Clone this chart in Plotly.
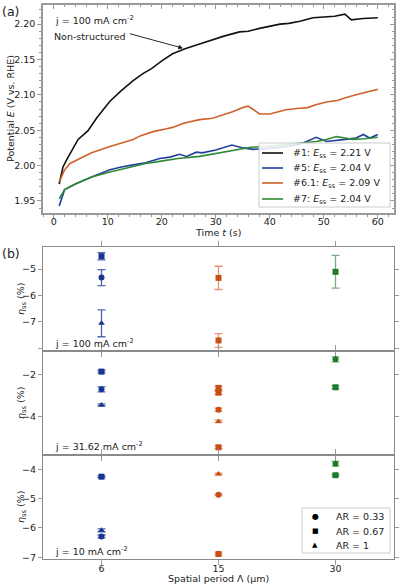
import plotly.graph_objects as go

# ---------------- data: panel (a) ----------------
t_1 = [1.0, 1.7, 2.5, 3.5, 4.5, 6.3, 8.0, 10.4, 12.5, 14.7, 16.5, 18.1, 20.0, 22.0, 24.3, 27.0, 29.4,
       31.5, 34.4, 36.0, 38.1, 40.0, 41.9, 43.5, 45.6, 48.0, 50.5, 52.0, 53.9, 55.1, 57.3, 58.5, 60.0]
E_1 = [1.974, 1.998, 2.010, 2.024, 2.037, 2.049, 2.068, 2.091, 2.106, 2.120, 2.130, 2.137, 2.148, 2.158,
       2.165, 2.172, 2.178, 2.183, 2.189, 2.190, 2.194, 2.197, 2.200, 2.201, 2.204, 2.209, 2.210, 2.211,
       2.214, 2.206, 2.208, 2.208, 2.209]
t_5 = [1.0, 2.0, 4.0, 7.0, 10.4, 12.5, 14.7, 17.0, 19.6, 21.5, 23.3, 24.6, 26.4, 27.5, 30.0, 33.0, 35.0,
       36.9, 39.4, 42.0, 45.5, 48.6, 50.5, 52.0, 54.0, 56.0, 57.3, 58.5, 60.0]
E_5 = [1.943, 1.966, 1.974, 1.984, 1.994, 1.998, 2.001, 2.004, 2.010, 2.012, 2.016, 2.013, 2.019, 2.018,
       2.022, 2.029, 2.025, 2.023, 2.024, 2.026, 2.030, 2.040, 2.034, 2.035, 2.037, 2.039, 2.044, 2.039, 2.044]
t_61 = [1.0, 2.0, 3.0, 4.8, 7.0, 10.4, 12.5, 14.7, 16.0, 18.4, 20.9, 22.0, 24.0, 27.0, 29.4, 31.0, 33.1,
        35.0, 36.0, 37.0, 38.1, 40.0, 41.5, 43.0, 45.5, 47.0, 48.5, 50.5, 52.5, 54.0, 56.0, 58.0, 60.0]
E_61 = [1.977, 1.994, 2.003, 2.010, 2.018, 2.027, 2.032, 2.037, 2.042, 2.048, 2.052, 2.054, 2.060, 2.065,
        2.067, 2.071, 2.076, 2.082, 2.084, 2.079, 2.073, 2.073, 2.076, 2.079, 2.081, 2.082, 2.086, 2.090,
        2.092, 2.096, 2.100, 2.104, 2.108]
t_7 = [1.0, 2.0, 4.0, 7.0, 10.4, 14.0, 17.0, 19.6, 23.0, 27.0, 30.0, 33.9, 36.5, 39.4, 42.5, 45.5, 48.6,
       50.5, 52.3, 54.0, 55.4, 57.5, 60.0]
E_7 = [1.953, 1.966, 1.974, 1.984, 1.991, 1.998, 2.003, 2.006, 2.010, 2.013, 2.017, 2.023, 2.026, 2.027,
       2.029, 2.031, 2.034, 2.037, 2.041, 2.039, 2.037, 2.038, 2.040]
sample_names = ["#1", "#5", "#6.1", "#7"]
sample_Ess = [2.21, 2.04, 2.09, 2.04]

# ---------------- data: panel (b) ----------------
periods = ["6", "15", "30"]
ar_levels = [0.33, 0.67, 1]

j100_period = ["6", "6", "6", "15", "15", "30"]
j100_ar = [0.33, 0.67, 1, 0.67, 0.67, 0.67]
j100_eta = [-5.32, -4.51, -7.05, -5.33, -7.70, -5.10]
j100_err = [0.30, 0.14, 0.51, 0.44, 0.26, 0.62]

j31_period = ["6", "6", "6", "15", "15", "15", "15", "15", "30", "30"]
j31_ar = [0.33, 0.67, 1, 0.67, 0.67, 0.33, 1, 0.67, 0.33, 0.67]
j31_eta = [-2.69, -1.84, -3.44, -2.62, -2.85, -3.67, -4.23, -5.47, -1.25, -2.59]
j31_err = [0.12, 0.06, 0.05, 0.08, 0.08, 0.08, 0.06, 0.06, 0.12, 0.08]

j10_period = ["6", "6", "6", "15", "15", "15", "30", "30"]
j10_ar = [0.67, 1, 0.33, 1, 0.33, 0.67, 0.33, 0.67]
j10_eta = [-4.25, -6.08, -6.29, -4.16, -4.87, -6.89, -3.81, -4.20]
j10_err = [0.03, 0.05, 0.05, 0.03, 0.03, 0.04, 0.08, 0.03]

# ---------------- styles ----------------
W, H = 399, 587
FONT = "DejaVu Sans"
AXC = "#9a9a9a"
line_colors = ["#111111", "#233f9e", "#d0602a", "#2e8b34"]
period_colors = {"6": "#1a3590", "15": "#c85018", "30": "#1e7a2a"}
period_err = {"6": "rgba(26,53,144,0.75)", "15": "rgba(200,80,24,0.6)", "30": "rgba(30,122,42,0.6)"}
ar_symbol = {0.33: "circle", 0.67: "square", 1: "triangle-up"}
ar_glyph = {0.33: "●", 0.67: "■", 1: "▲"}


def px_x(p):
    return p / W


def px_y(p):
    return 1 - p / H


fig = go.Figure()

for name, ess, tt, ee, col in zip(sample_names, sample_Ess, [t_1, t_5, t_61, t_7], [E_1, E_5, E_61, E_7], line_colors):
    fig.add_trace(go.Scatter(x=tt, y=ee, mode="lines", line=dict(color=col, width=1.6),
                             name=f"{name}: E_ss = {ess:.2f} V", showlegend=False,
                             xaxis="x", yaxis="y"))

sets = [(j100_period, j100_ar, j100_eta, j100_err, "2"),
        (j31_period, j31_ar, j31_eta, j31_err, "3"),
        (j10_period, j10_ar, j10_eta, j10_err, "4")]
for per, ar, eta, err, ax in sets:
    for p in periods:
        for a in ar_levels:
            idx = [i for i in range(len(per)) if per[i] == p and ar[i] == a]
            if not idx:
                continue
            fig.add_trace(go.Scatter(
                x=[per[i] for i in idx], y=[eta[i] for i in idx], mode="markers",
                marker=dict(symbol=ar_symbol[a], color=period_colors[p], size=6),
                error_y=dict(type="data", array=[err[i] for i in idx], color=period_err[p],
                             thickness=1.3, width=4),
                showlegend=False, xaxis="x" + ax, yaxis="y" + ax))

fig.add_trace(go.Scatter(x=[None], y=[None], xaxis="x5", yaxis="y5", showlegend=False))

tickfont = dict(family=FONT, size=9.5, color="#222")

a_dom_x = [px_x(43), px_x(394)]
a_dom_y = [px_y(213), px_y(5)]
b_doms = [[px_y(351), px_y(247)], [px_y(455), px_y(351)], [px_y(559), px_y(455)]]

common = dict(showgrid=False, zeroline=False, showline=True, linecolor=AXC, linewidth=1.5,
              tickcolor=AXC, tickfont=tickfont, automargin=False)

layout = dict(
    width=W, height=H, margin=dict(l=0, r=0, t=0, b=0, autoexpand=False),
    paper_bgcolor="white", plot_bgcolor="white", showlegend=False,
    font=dict(family=FONT, size=9.5, color="#222"),
    xaxis=dict(domain=a_dom_x, anchor="y", range=[-2, 63], tickvals=[0, 10, 20, 30, 40, 50, 60],
               ticks="outside", ticklen=4, ticklabelstandoff=-5,
               minor=dict(dtick=2, tick0=0, ticks="outside", ticklen=2, tickcolor=AXC),
               **common),
    yaxis=dict(domain=a_dom_y, anchor="x", range=[1.933, 2.227], tickvals=[1.95, 2.0, 2.05, 2.1, 2.15, 2.2],
               tickformat=".2f", ticks="outside", ticklen=4,
               minor=dict(dtick=0.01, tick0=1.9, ticks="outside", ticklen=2, tickcolor=AXC),
               **common),
    xaxis5=dict(domain=a_dom_x, anchor="y5", overlaying="x", side="top", range=[-2, 63],
                tickvals=[0, 10, 20, 30, 40, 50, 60], showticklabels=False, ticks="inside", ticklen=4,
                minor=dict(dtick=2, tick0=0, ticks="inside", ticklen=2, tickcolor=AXC), **common),
    yaxis5=dict(domain=a_dom_y, anchor="x5", overlaying="y", side="right", range=[1.933, 2.227],
                tickvals=[1.95, 2.0, 2.05, 2.1, 2.15, 2.2], showticklabels=False, ticks="inside", ticklen=4,
                minor=dict(dtick=0.01, tick0=1.9, ticks="inside", ticklen=2, tickcolor=AXC), **common),
)

b_ranges = [[-8.1, -4.16], [-5.84, -0.85], [-7.06, -3.51]]
b_ticks = [([-8, -7, -6, -5], ["", "−7", "−6", "−5"]),
           ([-4, -2], ["−4", "−2"]),
           ([-7, -6, -5, -4], ["−7", "−6", "−5", "−4"])]
bcommon = dict(common)
bcommon.update(linewidth=1.2, linecolor="#8a8a8a")
for k, ax in enumerate(["2", "3", "4"]):
    xa = dict(domain=a_dom_x, anchor="y" + ax, type="category", categoryorder="array",
              categoryarray=periods, range=[-0.5, 2.5], ticks="outside", ticklen=5, mirror="allticks",
              showticklabels=(ax == "4"), ticklabelstandoff=-5, **bcommon)
    if ax != "4":
        xa["matches"] = "x4"
    layout["xaxis" + ax] = xa
    layout["yaxis" + ax] = dict(domain=b_doms[k], anchor="x" + ax, range=b_ranges[k],
                                tickvals=b_ticks[k][0], ticktext=b_ticks[k][1], ticks="outside", ticklen=4,
                                mirror="ticks", **bcommon)

fig.update_layout(**layout)

tf = dict(family=FONT, size=9.5, color="#222")
ann = [
    dict(text="(a)", x=0, y=px_y(11), xref="paper", yref="paper", xanchor="left", yanchor="middle",
         showarrow=False, font=dict(family=FONT, size=12.5)),
    dict(text="(b)", x=0, y=px_y(253), xref="paper", yref="paper", xanchor="left", yanchor="middle",
         showarrow=False, font=dict(family=FONT, size=12.5)),
    dict(text="Potential <i>E</i> (V vs. RHE)", x=px_x(10), y=px_y(109), xref="paper", yref="paper",
         xanchor="center", yanchor="middle", textangle=-90, showarrow=False, font=tf),
    dict(text="Time <i>t</i> (s)", x=px_x(218), y=px_y(233), xref="paper", yref="paper",
         xanchor="center", yanchor="middle", showarrow=False, font=tf),
    dict(text="Spatial period Λ (µm)", x=px_x(218), y=px_y(578), xref="paper", yref="paper",
         xanchor="center", yanchor="middle", showarrow=False, font=tf),
    dict(text="j = 100 mA cm<sup>-2</sup>", x=px_x(53), y=px_y(20), xref="paper", yref="paper",
         xanchor="left", yanchor="middle", showarrow=False, font=tf),
    dict(text="Non-structured", x=px_x(52), y=px_y(36), xref="paper", yref="paper",
         xanchor="left", yanchor="middle", showarrow=False, font=tf),
    dict(text="", x=23.9, y=2.166, ax=13.8, ay=2.187, xref="x", yref="y", axref="x", ayref="y",
         showarrow=True, arrowhead=2, arrowsize=1, arrowwidth=0.9, arrowcolor="#111"),
    dict(text="j = 100 mA cm<sup>-2</sup>", x=px_x(53), y=px_y(343), xref="paper", yref="paper",
         xanchor="left", yanchor="middle", showarrow=False, font=tf),
    dict(text="j = 31.62 mA cm<sup>-2</sup>", x=px_x(53), y=px_y(446), xref="paper", yref="paper",
         xanchor="left", yanchor="middle", showarrow=False, font=tf),
    dict(text="j = 10 mA cm<sup>-2</sup>", x=px_x(53), y=px_y(551), xref="paper", yref="paper",
         xanchor="left", yanchor="middle", showarrow=False, font=tf),
]
for yc in [299, 403, 507]:
    ann.append(dict(text="<i>η</i><sub>ss</sub> (%)", x=px_x(21), y=px_y(yc), xref="paper", yref="paper",
                    xanchor="center", yanchor="middle", textangle=-90, showarrow=False, font=tf))

# ----- legend (a), drawn as a box with line samples and text -----
shapes = [dict(type="rect", xref="paper", yref="paper", x0=px_x(259), x1=px_x(390), y0=px_y(207), y1=px_y(143),
               fillcolor="rgba(255,255,255,0.85)", line=dict(color="#cccccc", width=1), layer="above")]
leg_rows = [153, 168, 183, 199]
for name, ess, col, yr in zip(sample_names, sample_Ess, line_colors, leg_rows):
    shapes.append(dict(type="line", xref="paper", yref="paper", x0=px_x(262), x1=px_x(283),
                       y0=px_y(yr), y1=px_y(yr), line=dict(color=col, width=1.6), layer="above"))
    ann.append(dict(text=f"{name}: <i>E</i><sub>ss</sub> = {ess:.2f} V", x=px_x(291), y=px_y(yr + 0.5),
                    xref="paper", yref="paper", xanchor="left", yanchor="middle", showarrow=False, font=tf))

# ----- legend (b) -----
shapes.append(dict(type="rect", xref="paper", yref="paper", x0=px_x(302), x1=px_x(390), y0=px_y(553), y1=px_y(508),
                   fillcolor="rgba(255,255,255,0.85)", line=dict(color="#cccccc", width=1), layer="above"))
for a, yr in zip(ar_levels, [516, 531, 545]):
    ann.append(dict(text=ar_glyph[a], x=px_x(315), y=px_y(yr), xref="paper", yref="paper",
                    xanchor="center", yanchor="middle", showarrow=False,
                    font=dict(family=FONT, size=7 if a != 0.33 else 8, color="black")))
    ann.append(dict(text=f"AR = {a}", x=px_x(334), y=px_y(yr), xref="paper", yref="paper",
                    xanchor="left", yanchor="middle", showarrow=False, font=tf))

fig.update_layout(annotations=ann, shapes=shapes)

fig.write_html("out.html", config={"displayModeBar": False},
               post_script="document.body.style.margin='0';document.body.style.overflow='hidden';")
